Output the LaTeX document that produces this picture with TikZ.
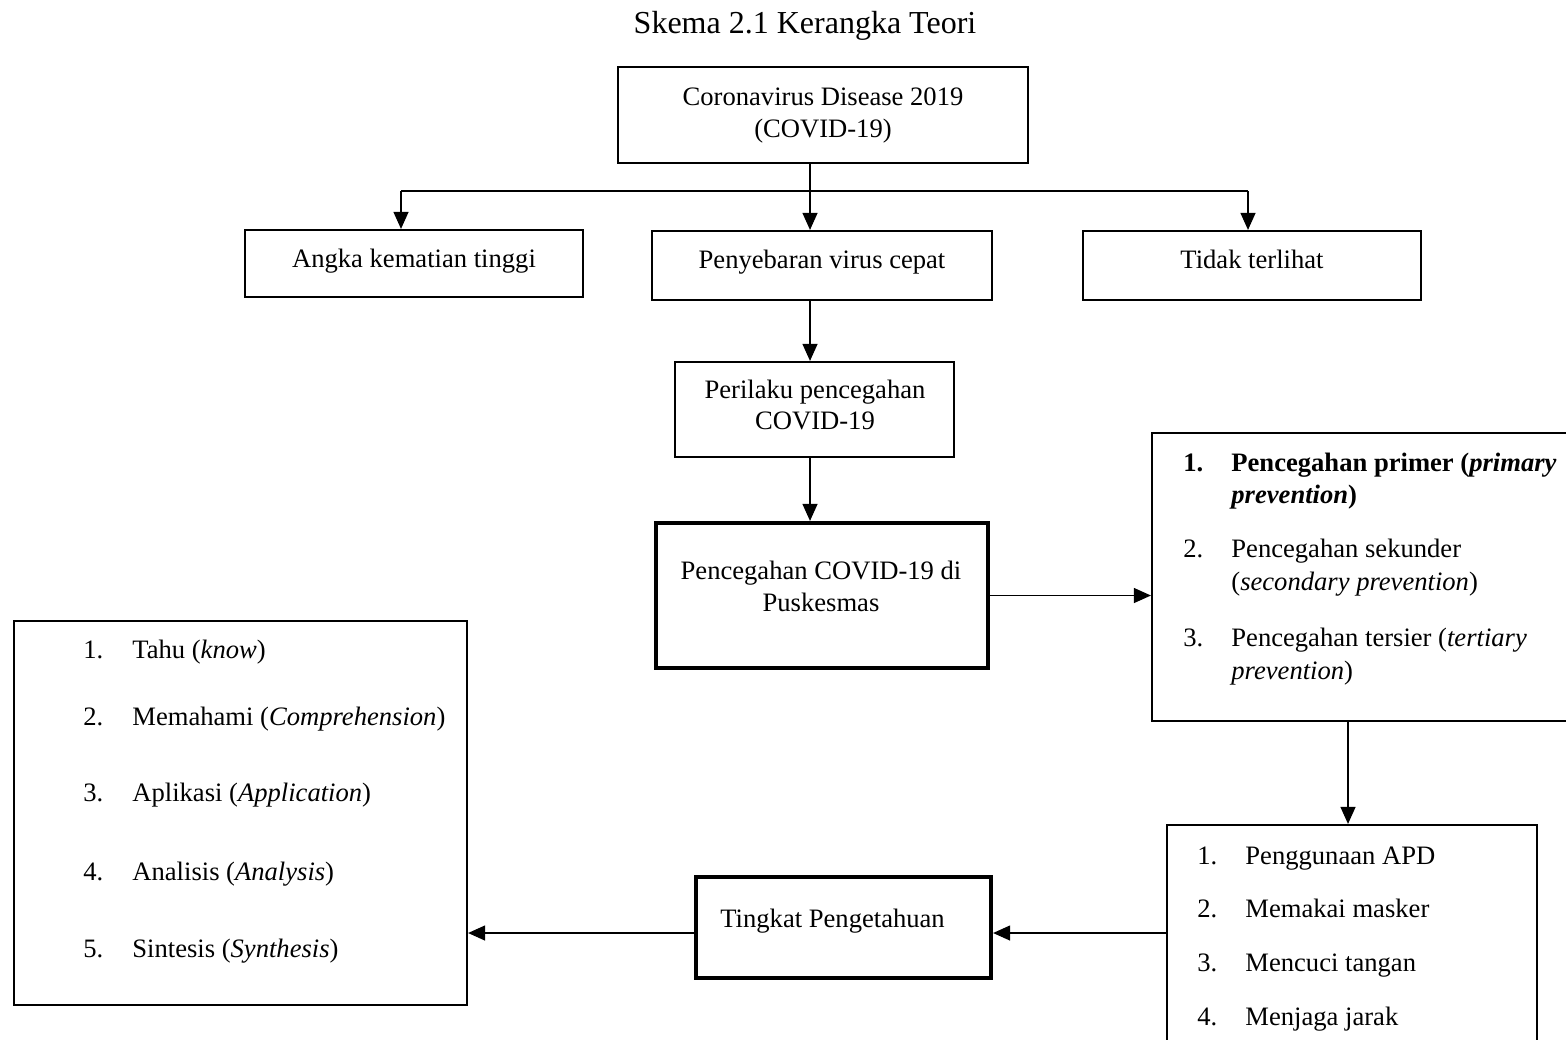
\documentclass[tikz,border=0pt]{standalone}
\usepackage{fontspec}
\setmainfont{Liberation Serif}
\usetikzlibrary{arrows.meta}
\begin{document}
\begin{tikzpicture}[x=0.5pt,y=-0.5pt,
  box/.style={draw, line width=1.1pt, inner sep=0pt, rectangle},
  thickbox/.style={draw, line width=2.1pt, inner sep=0pt, rectangle},
  txt/.style={inner sep=0pt, anchor=base, font=\fontsize{13.3}{15.5}\selectfont},
  ltxt/.style={txt, anchor=base west},
  conn/.style={draw, line width=0.6pt},
  arr/.style={conn, -{Triangle[length=8.5pt,width=7.5pt]}}]
\useasboundingbox (0,0) rectangle (1566,1039);
\clip (0,0) rectangle (1566,1039);
\fill[white] (0,0) rectangle (1566,1039);

% title
\node[txt, font=\fontsize{16}{19}\selectfont] (title) at (805,33) {Skema 2.1 Kerangka Teori};

% boxes
\node[box, minimum width=205pt, minimum height=48pt] (c1) at (823,115) {};
\node[box, minimum width=169pt, minimum height=33.5pt] (angka) at (414,263.5) {};
\node[box, minimum width=170pt, minimum height=34.5pt] (peny) at (822,265.5) {};
\node[box, minimum width=169pt, minimum height=34.5pt] (tidak) at (1252,265.5) {};
\node[box, minimum width=139.5pt, minimum height=47.5pt] (peril) at (814.5,409.5) {};
\node[thickbox, minimum width=166pt, minimum height=72.5pt] (pcg) at (822,595.5) {};
\node[box, minimum width=214pt, minimum height=144pt] (lev) at (1366,577) {};
\node[box, minimum width=185pt, minimum height=112.5pt] (pr) at (1352,937.5) {};
\node[thickbox, minimum width=147.5pt, minimum height=50.5pt] (tk) at (843.5,927.5) {};
\node[box, minimum width=226.5pt, minimum height=192pt] (kn) at (240.5,813) {};

% texts
\node[txt] (c1a) at (823,105) {Coronavirus Disease 2019};
\node[txt] (c1b) at (823,137) {(COVID-19)};
\node[txt] (angkat) at (414,267) {Angka kematian tinggi};
\node[txt] (penyt) at (822,268) {Penyebaran virus cepat};
\node[txt] (tidakt) at (1252,268) {Tidak terlihat};
\node[txt] (perila) at (815,398) {Perilaku pencegahan};
\node[txt] (perilb) at (815,429) {COVID-19};
\node[txt] (pcga) at (821,579) {Pencegahan COVID-19 di};
\node[txt] (pcgb) at (821,611) {Puskesmas};

\node[ltxt] (l1n) at (1183,471) {\textbf{1.}};
\node[ltxt] (l1a) at (1231,471) {\textbf{Pencegahan primer (\textit{primary}}};
\node[ltxt] (l1b) at (1231,503) {\textbf{\textit{prevention})}};
\node[ltxt] (l2n) at (1183,557) {2.};
\node[ltxt] (l2a) at (1231,557) {Pencegahan sekunder};
\node[ltxt] (l2b) at (1231,590) {(\textit{secondary prevention})};
\node[ltxt] (l3n) at (1183,646) {3.};
\node[ltxt] (l3a) at (1231,646) {Pencegahan tersier (\textit{tertiary}};
\node[ltxt] (l3b) at (1231,679) {\textit{prevention})};

\node[ltxt] (p1n) at (1197,864) {1.};
\node[ltxt] (p1) at (1245,864) {Penggunaan APD};
\node[ltxt] (p2n) at (1197,917) {2.};
\node[ltxt] (p2) at (1245,917) {Memakai masker};
\node[ltxt] (p3n) at (1197,971) {3.};
\node[ltxt] (p3) at (1245,971) {Mencuci tangan};
\node[ltxt] (p4n) at (1197,1025) {4.};
\node[ltxt] (p4) at (1245,1025) {Menjaga jarak};

\node[ltxt] (tkt) at (720,927) {Tingkat Pengetahuan};

\node[ltxt] (k1n) at (83,658) {1.};
\node[ltxt] (k1) at (132,658) {Tahu (\textit{know})};
\node[ltxt] (k2n) at (83,725) {2.};
\node[ltxt] (k2) at (132,725) {Memahami (\textit{Comprehension})};
\node[ltxt] (k3n) at (83,801) {3.};
\node[ltxt] (k3) at (132,801) {Aplikasi (\textit{Application})};
\node[ltxt] (k4n) at (83,880) {4.};
\node[ltxt] (k4) at (132,880) {Analisis (\textit{Analysis})};
\node[ltxt] (k5n) at (83,957) {5.};
\node[ltxt] (k5) at (132,957) {Sintesis (\textit{Synthesis})};

% connectors
\coordinate (split) at (810,191);
\coordinate (jl) at (401,191);
\coordinate (jr) at (1248,191);
\coordinate (xr) at (1348,0);
\coordinate (ya) at (0,933);
\draw[conn] (c1.south -| split) -- (split);
\draw[conn] (jl) -- (jr);
\draw[arr] (jl) -- (jl |- angka.north);
\draw[arr] (split) -- (split |- peny.north);
\draw[arr] (jr) -- (jr |- tidak.north);
\draw[arr] (peny.south -| split) -- (split |- peril.north);
\draw[arr] (peril.south -| split) -- (split |- pcg.north);
\draw[arr] (pcg.east) -- (pcg.east -| lev.west);
\draw[arr] (lev.south -| xr) -- (xr |- pr.north);
\draw[arr] (pr.west |- ya) -- (tk.east |- ya);
\draw[arr] (tk.west |- ya) -- (kn.east |- ya);
\end{tikzpicture}
\end{document}
